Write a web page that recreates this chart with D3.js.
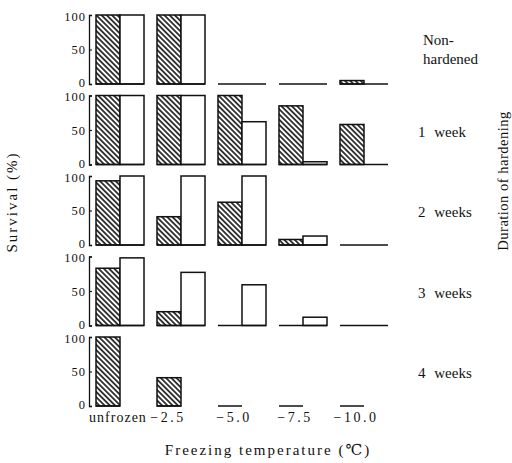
<!DOCTYPE html>
<html>
<head>
<meta charset="utf-8">
<script src="https://cdn.jsdelivr.net/npm/d3@7"></script>
<style>
  html, body { margin: 0; padding: 0; background: #fff; }
  svg { display: block; }
  text { font-family: "Liberation Serif", "DejaVu Serif", serif; fill: #111; }
</style>
</head>
<body>
<svg id="chart" width="512" height="463"></svg>
<script>
// Freezing temperatures (x categories)
const categories = ["unfrozen", "\u22122.5", "\u22125.0", "\u22127.5", "\u221210.0"];
// Hardening durations (one panel each, top to bottom)
const durations = [["Non-", "hardened"], ["1 week"], ["2 weeks"], ["3 weeks"], ["4 weeks"]];
// Survival (%) — hatched bars, one row per duration
const hatchedSurvival = [
  [100, 100, 0, 0, 5],
  [100, 100, 100, 85, 58],
  [93, 41, 62, 8, 0],
  [83, 20, 0, 0, 0],
  [100, 41, 0, 0, 0]
];
// Survival (%) — open bars (null = not measured)
const openSurvival = [
  [100, 100, 0, 0, 0],
  [100, 100, 62, 4, 0],
  [100, 100, 100, 13, 0],
  [98, 77, 59, 12, 0],
  [null, null, null, null, null]
];
const yTicks = [0, 50, 100];

const svg = d3.select("#chart");

// hatch pattern: diagonal lines running down to the right
const defs = svg.append("defs");
defs.append("pattern")
  .attr("id", "hatch")
  .attr("patternUnits", "userSpaceOnUse")
  .attr("width", 3.7).attr("height", 3.7)
  .attr("patternTransform", "rotate(-45)")
  .append("line")
  .attr("x1", 1.85).attr("y1", 0).attr("x2", 1.85).attr("y2", 3.7)
  .attr("stroke", "#111").attr("stroke-width", 1.6);

const axisX = 89;
const x = d3.scaleBand().domain(categories).range([96, 388]).paddingInner(0.213).paddingOuter(0);
const sub = d3.scaleBand().domain(["hatched", "open"]).range([0, x.bandwidth()]);

const panelTop = 15, panelStep = 80.5, panelH = 69;

durations.forEach((label, i) => {
  const top = panelTop + i * panelStep;
  const y = d3.scaleLinear().domain([0, 100]).range([top + panelH, top]);
  const g = svg.append("g");

  // y axis with bracket-style ends
  const ax = g.append("g")
    .attr("transform", `translate(${axisX},0)`)
    .call(d3.axisLeft(y).tickValues(yTicks).tickSizeInner(-3).tickSizeOuter(-3).tickPadding(3));
  ax.select(".domain").attr("stroke", "#111").attr("stroke-width", 1.3);
  ax.selectAll(".tick line").attr("stroke", "#111").attr("stroke-width", 1.1);
  ax.selectAll(".tick text")
    .attr("font-family", "Liberation Serif, DejaVu Serif, serif")
    .attr("font-size", 12.5).attr("letter-spacing", "1px").attr("fill", "#111")
    .attr("dy", d => d === 0 ? "0.2em" : d === 100 ? "0.4em" : "0.32em");

  const rows = [
    { key: "hatched", vals: hatchedSurvival[i] },
    { key: "open", vals: openSurvival[i] }
  ];
  rows.forEach(r => {
    categories.forEach((c, j) => {
      const v = r.vals[j];
      if (v === null) return;
      const x0 = x(c) + sub(r.key);
      const w = sub.bandwidth();
      if (v > 0) {
        g.append("rect")
          .attr("x", x0).attr("y", y(v))
          .attr("width", w).attr("height", y(0) - y(v))
          .attr("fill", r.key === "hatched" ? "url(#hatch)" : "#fff")
          .attr("stroke", "#111").attr("stroke-width", 1.5);
      }
      g.append("line")
        .attr("x1", x0).attr("x2", x0 + w)
        .attr("y1", y(0)).attr("y2", y(0))
        .attr("stroke", "#111").attr("stroke-width", 1.5);
    });
  });

  // duration label at the right
  const t = svg.append("text")
    .attr("x", 418).attr("font-size", 15).attr("word-spacing", "5px");
  const baseY = label.length > 1 ? top + 30 : top + 41;
  label.forEach((s, k) => {
    t.append("tspan").attr("x", label.length > 1 ? 423 : 418)
      .attr("y", baseY + k * 19).text(s);
  });
});

// category labels under the bottom panel
svg.append("g").selectAll("text").data(categories).join("text")
  .attr("x", (d, j) => x(d) + x.bandwidth() / 2 + (j === 0 ? -2 : j === 1 ? -13 : -8))
  .attr("y", 422)
  .attr("text-anchor", "middle")
  .attr("font-size", 14)
  .attr("letter-spacing", (d, j) => j === 0 ? "1px" : "2.5px")
  .text(d => d);

// axis titles
svg.append("text")
  .attr("transform", "translate(17,202) rotate(-90)")
  .attr("text-anchor", "middle").attr("font-size", 15).attr("letter-spacing", "2px")
  .text("Survival (%)");

svg.append("text")
  .attr("transform", "translate(508,181) rotate(-90)")
  .attr("text-anchor", "middle").attr("font-size", 14.5).attr("letter-spacing", "0.5px")
  .text("Duration of hardening");

svg.append("text")
  .attr("x", 268).attr("y", 455)
  .attr("text-anchor", "middle").attr("font-size", 15).attr("letter-spacing", "2px")
  .text("Freezing temperature (\u2103)");
</script>
</body>
</html>
